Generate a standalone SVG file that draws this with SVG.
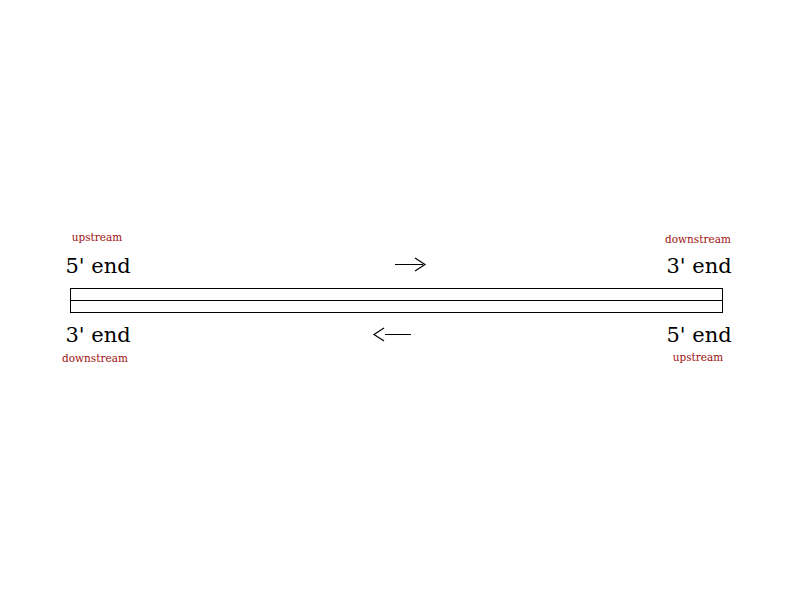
<svg xmlns="http://www.w3.org/2000/svg" width="800" height="600" viewBox="0 0 800 600">
<style>
.end{font-family:"DejaVu Serif","Liberation Serif",serif;font-size:21px;fill:#000}
.lab{font-family:"DejaVu Serif","Liberation Serif",serif;font-size:10.5px;fill:#a01010}
.arr{font-family:"DejaVu Sans","Liberation Sans",sans-serif;font-size:20px;fill:#000}
</style>
<rect width="800" height="600" fill="#fff"/>
<g id="strand">
<rect x="70.5" y="288.5" width="652" height="24" fill="none" stroke="#000" stroke-width="1"/>
<line x1="70.5" y1="300.5" x2="722.5" y2="300.5" stroke="#000" stroke-width="1"/>
</g>
<g id="top-left">
<text class="lab" x="97" y="241" text-anchor="middle">upstream</text>
<text class="end" x="98" y="273" text-anchor="middle">5' end</text>
</g>
<g id="top-right">
<text class="lab" x="698" y="243" text-anchor="middle">downstream</text>
<text class="end" x="699" y="273" text-anchor="middle">3' end</text>
</g>
<g id="bottom-left">
<text class="end" x="98" y="342" text-anchor="middle">3' end</text>
<text class="lab" x="95" y="362" text-anchor="middle">downstream</text>
</g>
<g id="bottom-right">
<text class="end" x="699" y="342" text-anchor="middle">5' end</text>
<text class="lab" x="698" y="361" text-anchor="middle">upstream</text>
</g>
<g id="connectors">
<path d="M395 264.5 H423 M415 258 L425 264.5 L415 271" fill="none" stroke="#000" stroke-width="1.2"/>
<path d="M385 334.5 H411 M384 334.5 M384 328 L374 334.5 L384 341" fill="none" stroke="#000" stroke-width="1.2"/>
</g>
</svg>
